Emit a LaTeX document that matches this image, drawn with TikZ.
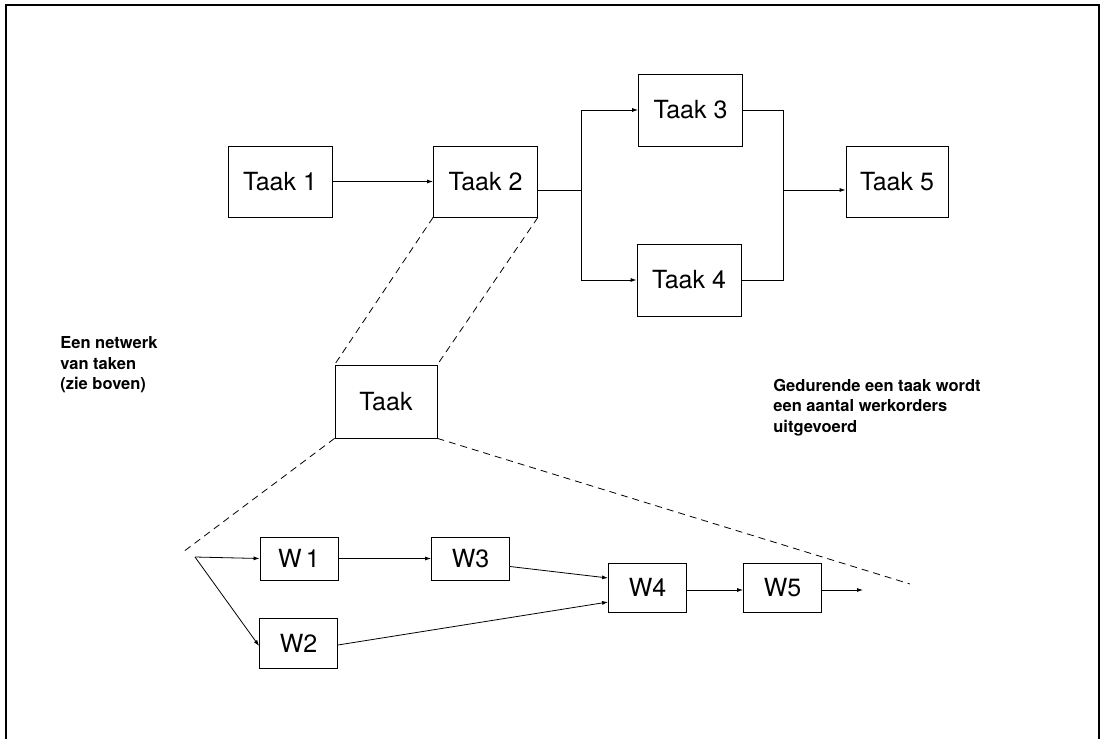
\documentclass[tikz,border=0pt]{standalone}
\usepackage{fontspec}
\setmainfont{TeX Gyre Heros}
\usetikzlibrary{arrows.meta}

\begin{document}
\begin{tikzpicture}[x=1pt, y=-1pt, line width=0.8pt,
  taakbox/.style={draw, minimum width=104pt, minimum height=71pt, inner sep=0pt,
    font=\fontsize{25}{30}\selectfont},
  wbox/.style={draw, minimum width=78pt, inner sep=0pt,
    font=\fontsize{25}{30}\selectfont},
  pijl/.style={-{Latex[length=6pt,width=4pt]}},
  zoomlijn/.style={dashed, dash pattern=on 7pt off 5pt},
  uitleg/.style={align=left, inner sep=0pt, anchor=north west,
    font=\fontsize{16.5}{20.5}\selectfont\bfseries}]
\useasboundingbox (0,0) rectangle (1109,739);
\draw[line width=1.2pt] (6,739) -- (6,5) -- (1099,5) -- (1099,739); % kader

% netwerk van taken
\node[taakbox] (t1) at (280,181.5) {Taak 1};
\node[taakbox] (t2) at (485.5,181.5) {Taak 2};
\node[taakbox, minimum height=72pt] (t3) at (690.5,110) {Taak 3};
\node[taakbox, minimum height=72pt] (t4) at (689,280) {Taak 4};
\node[taakbox, minimum width=102pt] (t5) at (897,181.5) {Taak 5};
\coordinate (split) at (581,190);
\coordinate (merge) at (783,190);

\draw[pijl] (t1) -- (t2);
\draw (split -| t2.east) -- (split);
\draw[pijl] (split) |- (t3.west);
\draw[pijl] (split) |- (t4.west);
\draw (t3.east) -| (merge);
\draw (t4.east) -| (merge);
\draw[pijl] (merge) -- (merge -| t5.west);

% uitvergroting
\node[taakbox, minimum width=102pt, minimum height=73pt] (taak) at (386,401.5) {Taak};
\coordinate (zl) at (183,552);
\coordinate (zr) at (910,584);
\draw[zoomlijn] (t2.south west) -- (taak.north west);
\draw[zoomlijn] (t2.south east) -- (taak.north east);
\draw[zoomlijn] (taak.south west) -- (zl);
\draw[zoomlijn] (taak.south east) -- (zr);

% werkorders
\node[wbox, minimum height=43pt] (w1) at (299,558.5) {W\,1};
\node[wbox, minimum height=43pt] (w3) at (470.5,558.5) {W3};
\node[wbox, minimum height=50pt] (w2) at (298.5,643) {W2};
\node[wbox, minimum height=49pt] (w4) at (647.5,587.5) {W4};
\node[wbox, minimum height=49pt] (w5) at (782.5,587.5) {W5};
\coordinate (start) at (195,557);
\coordinate (eind) at (863,590);

\draw[pijl] (start) -- (w1.west);
\draw[pijl] (start) -- ([yshift=-3pt]w2.west);
\draw[pijl] (w1) -- (w3);
\draw[pijl] ([yshift=-8pt]w3.east) -- ([yshift=9.5pt]w4.west);
\draw[pijl] ([yshift=-2pt]w2.east) -- ([yshift=-14.5pt]w4.west);
\draw[pijl] (w4.east |- eind) -- (w5.west |- eind);
\draw[pijl] (w5.east |- eind) -- (eind);

% toelichting
\node[uitleg] (links) at (60,336.5) {Een netwerk\\van taken\\(zie boven)};
\node[uitleg] (rechts) at (773,378.5) {Gedurende een taak wordt\\een aantal werkorders\\uitgevoerd};
\end{tikzpicture}
\end{document}
